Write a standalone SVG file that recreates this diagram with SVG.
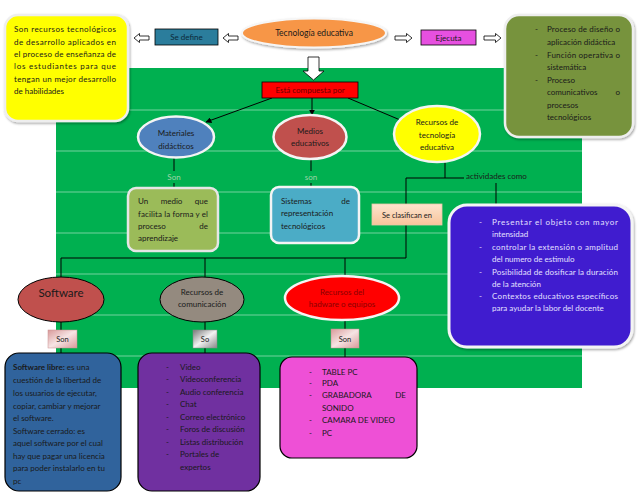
<svg xmlns="http://www.w3.org/2000/svg" width="638" height="493" viewBox="0 0 638 493">
<style>
.t{font-family:Lato,"Open Sans","Liberation Sans",sans-serif;font-size:8px;fill:#1a1a1a}
.c{text-anchor:middle}
.e{text-anchor:end}
.ln{stroke:#000;stroke-width:1;fill:none}
.grid{stroke:#ffffff;stroke-opacity:.45;stroke-width:1}
.lbl{fill:#9fd4a8}
.w{fill:#e4e0ff}
.ha{fill:#fff;stroke:#000;stroke-width:0.8}
</style>
<defs>
<marker id="ah" viewBox="0 0 10 10" refX="9" refY="5" markerWidth="6" markerHeight="6" orient="auto-start-reverse">
<path d="M0,0 L10,5 L0,10 z" fill="#000"/>
</marker>
<filter id="sh" x="-10%" y="-10%" width="125%" height="125%">
<feDropShadow dx="1" dy="1.5" stdDeviation="1" flood-color="#000" flood-opacity="0.35"/>
</filter>
<linearGradient id="gPeach" x1="0" y1="0" x2="0" y2="1">
<stop offset="0" stop-color="#fde4cf"/><stop offset="1" stop-color="#f8c49a"/>
</linearGradient>
<linearGradient id="gPink" x1="0" y1="0" x2="1" y2="1">
<stop offset="0" stop-color="#d99a9a"/><stop offset="0.5" stop-color="#f6e4e4"/><stop offset="1" stop-color="#d99a9a"/>
</linearGradient>
<linearGradient id="gGray" x1="0" y1="0" x2="1" y2="1">
<stop offset="0" stop-color="#777"/><stop offset="0.5" stop-color="#f2f2f2"/><stop offset="1" stop-color="#888"/>
</linearGradient>
</defs>

<rect width="638" height="493" fill="#fff"/>
<g id="background">
<rect x="56" y="68" width="526" height="320" fill="#00b050"/>
<line class="grid" x1="56" y1="110" x2="582" y2="110"/>
<line class="grid" x1="56" y1="151" x2="582" y2="151"/>
<line class="grid" x1="56" y1="192" x2="582" y2="192"/>
<line class="grid" x1="56" y1="233" x2="582" y2="233"/>
<line class="grid" x1="56" y1="274" x2="582" y2="274"/>
<line class="grid" x1="56" y1="315" x2="582" y2="315"/>
<line class="grid" x1="56" y1="356" x2="582" y2="356"/>
</g>

<g id="connectors">
<polygon class="ha" points="134,38 139.5,33.5 139.5,36 149,36 149,40 139.5,40 139.5,42.5"/>
<polygon class="ha" points="223,38 228.5,33.5 228.5,36 238,36 238,40 228.5,40 228.5,42.5"/>
<polygon class="ha" points="412,38 406.5,33.5 406.5,36 395,36 395,40 406.5,40 406.5,42.5"/>
<polygon class="ha" points="501,38 495.5,33.5 495.5,36 484,36 484,40 495.5,40 495.5,42.5"/>
<polygon class="ha" points="308,57 319,57 319,71 324,71 313.5,80 303,71 308,71"/>
<line class="ln" x1="272" y1="98" x2="206" y2="122" marker-end="url(#ah)"/>
<line class="ln" x1="312" y1="98" x2="312" y2="115" marker-end="url(#ah)"/>
<line class="ln" x1="348" y1="98" x2="405" y2="122" marker-end="url(#ah)"/>
<line class="ln" x1="174" y1="158" x2="174" y2="171"/>
<line class="ln" x1="174" y1="183" x2="174" y2="188"/>
<line class="ln" x1="311" y1="159" x2="311" y2="171"/>
<line class="ln" x1="311" y1="183" x2="311" y2="188"/>
<polyline class="ln" points="445,162 445,178 406,178 406,258 61,258 61,277"/>
<line class="ln" x1="445" y1="178" x2="464" y2="178"/>
<line class="ln" x1="496" y1="183" x2="496" y2="205"/>
<line class="ln" x1="205" y1="258" x2="205" y2="277"/>
<line class="ln" x1="345" y1="258" x2="345" y2="276"/>
<line class="ln" x1="61" y1="322" x2="61" y2="353"/>
<line class="ln" x1="205" y1="322" x2="205" y2="353"/>
<line class="ln" x1="345" y1="320" x2="345" y2="357"/>
<text class="t c lbl" x="174" y="180">Son</text>
<text class="t c lbl" x="311" y="180">son</text>
<text class="t" x="466" y="179">actividades como</text>
</g>

<g id="definicion">
<rect x="5" y="15" width="123" height="106" rx="13" fill="#ffff00" stroke="#eeeeee" stroke-width="2.5" filter="url(#sh)"/>
<text class="t" x="14" y="32" textLength="102" lengthAdjust="spacing">Son recursos tecnológicos</text>
<text class="t" x="14" y="45" textLength="102" lengthAdjust="spacing">de desarrollo aplicados en</text>
<text class="t" x="14" y="57" textLength="102" lengthAdjust="spacing">el proceso de enseñanza de</text>
<text class="t" x="14" y="69" textLength="102" lengthAdjust="spacing">los estudiantes para que</text>
<text class="t" x="14" y="82" textLength="102" lengthAdjust="spacing">tengan un mejor desarrollo</text>
<text class="t" x="14" y="94">de habilidades</text>
</g>

<g id="se-define">
<rect x="155" y="29" width="63" height="16" fill="#2b7d9c" stroke="#000" stroke-width="0.8"/>
<text class="t c" x="186.5" y="40" style="fill:#0c2a3a">Se define</text>
</g>

<g id="tecnologia-educativa">
<ellipse cx="314" cy="33" rx="72" ry="14.5" fill="#f79646" stroke="#f6f6f6" stroke-width="2" filter="url(#sh)"/>
<text class="t c" x="314" y="36" style="font-size:8.5px">Tecnología educativa</text>
</g>

<g id="ejecuta">
<rect x="421" y="30" width="55" height="15" fill="#e650e0" stroke="#000" stroke-width="0.8"/>
<text class="t c" x="448.5" y="40.5">Ejecuta</text>
</g>

<g id="procesos">
<rect x="505" y="15" width="128" height="122" rx="14" fill="#77933c" stroke="#eeeeee" stroke-width="2.5" filter="url(#sh)"/>
<text class="t" x="535" y="32">-</text>
<text class="t" x="547" y="32" textLength="73" lengthAdjust="spacing">Proceso de diseño o</text>
<text class="t" x="547" y="45">aplicación didáctica</text>
<text class="t" x="535" y="57.5">-</text>
<text class="t" x="547" y="57.5" textLength="73" lengthAdjust="spacing">Función operativa o</text>
<text class="t" x="547" y="70">sistemática</text>
<text class="t" x="535" y="82.5">-</text>
<text class="t" x="547" y="82.5">Proceso</text>
<text class="t" x="547" y="95">comunicativos</text>
<text class="t e" x="620" y="95">o</text>
<text class="t" x="547" y="107.5">procesos</text>
<text class="t" x="547" y="120">tecnológicos</text>
</g>

<g id="compuesta">
<rect x="262" y="82" width="96" height="16" fill="#ff0000" stroke="#000" stroke-width="0.8"/>
<text class="t c" x="310" y="93" style="fill:#6a0000">Está compuesta por</text>
</g>

<g id="materiales">
<ellipse cx="176" cy="137" rx="38" ry="20.5" fill="#4f81bd" stroke="#f4f4f4" stroke-width="2.5"/>
<text class="t c" x="176" y="136">Materiales</text>
<text class="t c" x="176" y="149">didácticos</text>
</g>

<g id="medios">
<ellipse cx="310" cy="137" rx="36.5" ry="22" fill="#c0504d" stroke="#f4f4f4" stroke-width="2.5"/>
<text class="t c" x="310" y="134">Medios</text>
<text class="t c" x="310" y="146">educativos</text>
</g>

<g id="recursos-tecnologia">
<ellipse cx="437" cy="134" rx="43" ry="28" fill="#ffff00" stroke="#f4f4f4" stroke-width="2.5"/>
<text class="t c" x="437" y="125">Recursos de</text>
<text class="t c" x="437" y="138">tecnología</text>
<text class="t c" x="437" y="150">educativa</text>
</g>

<g id="un-medio">
<rect x="128" y="188" width="90" height="63" rx="8" fill="#9bbb59" stroke="#e6e6e6" stroke-width="2.5"/>
<text class="t" x="138" y="204">Un</text>
<text class="t c" x="171.5" y="204">medio</text>
<text class="t e" x="208" y="204">que</text>
<text class="t" x="138" y="217" textLength="70" lengthAdjust="spacing">facilita la forma y el</text>
<text class="t" x="138" y="229">proceso</text>
<text class="t e" x="208" y="229">de</text>
<text class="t" x="138" y="241">aprendizaje</text>
</g>

<g id="sistemas">
<rect x="271" y="187" width="88" height="56" rx="8" fill="#4bacc6" stroke="#f4f4f4" stroke-width="2.5"/>
<text class="t" x="281" y="204">Sistemas</text>
<text class="t e" x="350" y="204">de</text>
<text class="t" x="281" y="216">representación</text>
<text class="t" x="281" y="229">tecnológicos</text>
</g>

<g id="se-clasifican">
<rect x="372" y="204" width="70" height="21" fill="url(#gPeach)" stroke="#e8c8a8" stroke-width="0.8"/>
<text class="t c" x="407" y="217.5" style="font-size:7.5px">Se clasifican en</text>
</g>

<g id="actividades">
<rect x="449" y="205" width="183" height="142" rx="18" fill="#3f1fcf" stroke="#f4f4f4" stroke-width="3" filter="url(#sh)"/>
<text class="t w" x="479" y="225">-</text>
<text class="t w" x="492" y="225" textLength="126" lengthAdjust="spacing">Presentar el objeto con mayor</text>
<text class="t w" x="492" y="237">intensidad</text>
<text class="t w" x="479" y="250">-</text>
<text class="t w" x="492" y="250" textLength="126" lengthAdjust="spacing">controlar la extensión o amplitud</text>
<text class="t w" x="492" y="262">del numero de estimulo</text>
<text class="t w" x="479" y="274.5">-</text>
<text class="t w" x="492" y="274.5" textLength="126" lengthAdjust="spacing">Posibilidad de dosificar la duración</text>
<text class="t w" x="492" y="286.5">de la atención</text>
<text class="t w" x="479" y="299">-</text>
<text class="t w" x="492" y="299" textLength="126" lengthAdjust="spacing">Contextos educativos específicos</text>
<text class="t w" x="492" y="311">para ayudar la labor del docente</text>
</g>

<g id="software">
<ellipse cx="61" cy="299.5" rx="43" ry="22.5" fill="#c0504d" stroke="#000" stroke-width="1"/>
<text class="t c" x="61" y="297" style="font-size:11.5px">Software</text>
</g>

<g id="comunicacion">
<ellipse cx="202" cy="299.5" rx="42" ry="22.5" fill="#948a7f" stroke="#000" stroke-width="1"/>
<text class="t c" x="202" y="295">Recursos de</text>
<text class="t c" x="202" y="307">comunicación</text>
</g>

<g id="hardware">
<ellipse cx="342" cy="298" rx="57" ry="22" fill="#ff0000" stroke="#f4f4f4" stroke-width="2.5"/>
<text class="t c" x="342" y="295" style="fill:#8a0000">Recursos del</text>
<text class="t c" x="342" y="307" style="fill:#8a0000">hadware o equipos</text>
</g>

<g id="son-software">
<rect x="48" y="330" width="29" height="18" fill="url(#gPink)" stroke="#c89090" stroke-width="0.5"/>
<text class="t c" x="62.5" y="342" style="font-size:7.5px">Son</text>
</g>
<g id="so-comunicacion">
<rect x="193" y="330" width="24" height="18" fill="url(#gGray)" stroke="#888" stroke-width="0.5"/>
<text class="t c" x="205" y="342" style="font-size:7.5px">So</text>
</g>
<g id="son-hardware">
<rect x="331" y="329" width="28" height="19" fill="url(#gPink)" stroke="#c89090" stroke-width="0.5"/>
<text class="t c" x="345" y="342" style="font-size:7.5px">Son</text>
</g>

<g id="software-detalle">
<rect x="5" y="353" width="116" height="138" rx="14" fill="#30639c" stroke="#000" stroke-width="1.2"/>
<text class="t" x="13" y="370"><tspan font-weight="bold">Software libre:</tspan> es una</text>
<text class="t" x="13" y="383">cuestión de la libertad de</text>
<text class="t" x="13" y="396">los usuarios de ejecutar,</text>
<text class="t" x="13" y="409">copiar, cambiar y mejorar</text>
<text class="t" x="13" y="421">el software.</text>
<text class="t" x="13" y="434">Software cerrado:  es</text>
<text class="t" x="13" y="446">aquel software por el cual</text>
<text class="t" x="13" y="459">hay que pagar una licencia</text>
<text class="t" x="13" y="471">para poder instalarlo en tu</text>
<text class="t" x="13" y="484">pc</text>
</g>

<g id="comunicacion-detalle">
<rect x="138" y="353" width="122" height="138" rx="14" fill="#7030a0" stroke="#000" stroke-width="1.2"/>
<text class="t" x="166" y="370">-</text><text class="t" x="180" y="370">Video</text>
<text class="t" x="166" y="382">-</text><text class="t" x="180" y="382">Videoconferencia</text>
<text class="t" x="166" y="395">-</text><text class="t" x="180" y="395">Audio conferencia</text>
<text class="t" x="166" y="407">-</text><text class="t" x="180" y="407">Chat</text>
<text class="t" x="166" y="420">-</text><text class="t" x="180" y="420">Correo electrónico</text>
<text class="t" x="166" y="432">-</text><text class="t" x="180" y="432">Foros de discusión</text>
<text class="t" x="166" y="445">-</text><text class="t" x="180" y="445">Listas distribución</text>
<text class="t" x="166" y="457">-</text><text class="t" x="180" y="457">Portales de</text>
<text class="t" x="180" y="470">expertos</text>
</g>

<g id="hardware-detalle">
<rect x="280" y="357" width="137" height="101" rx="12" fill="#ee50d6" stroke="#000" stroke-width="1.2"/>
<text class="t" x="309" y="375">-</text><text class="t" x="322" y="375">TABLE  PC</text>
<text class="t" x="309" y="386">-</text><text class="t" x="322" y="386">PDA</text>
<text class="t" x="309" y="398">-</text><text class="t" x="322" y="398">GRABADORA</text>
<text class="t e" x="406" y="398">DE</text>
<text class="t" x="322" y="411">SONIDO</text>
<text class="t" x="309" y="423">-</text><text class="t" x="322" y="423">CAMARA DE VIDEO</text>
<text class="t" x="309" y="436">-</text><text class="t" x="322" y="436">PC</text>
</g>
</svg>
